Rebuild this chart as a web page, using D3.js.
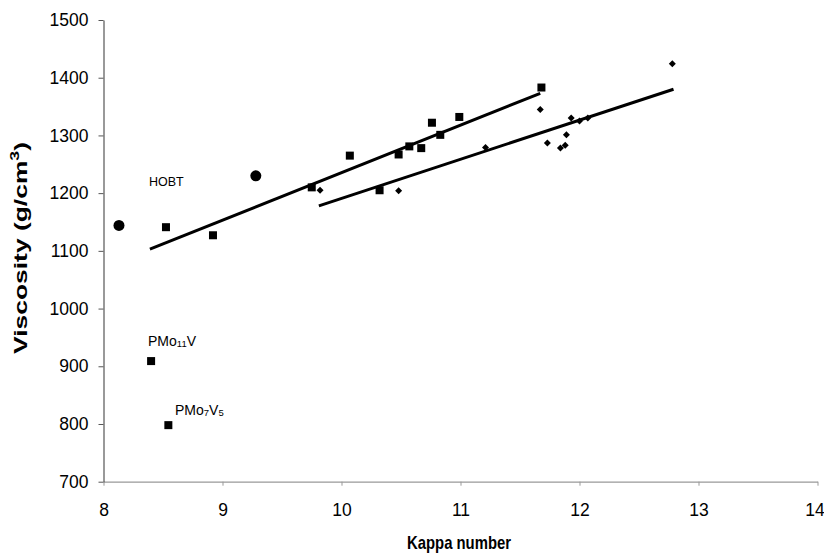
<!DOCTYPE html>
<html>
<head>
<meta charset="utf-8">
<script src="https://cdn.jsdelivr.net/npm/d3@7"></script>
<style>
  body { margin: 0; background: #fff; }
  svg { display: block; }
  .tick text { font-family: "Liberation Sans", Arial, sans-serif; font-size: 17.5px; fill: #000; }
</style>
</head>
<body>
<div id="chart"></div>
<script>
var width = 824, height = 554;

// HOBT (circles)
var circleX = [8.13, 9.28];
var circleY = [1144, 1230];

// squares
var squareX = [8.40, 8.545, 8.525, 8.92, 9.75, 10.07, 10.32, 10.48, 10.57, 10.67, 10.76, 10.83, 10.99, 11.68];
var squareY = [909, 798, 1141, 1127, 1210, 1265, 1205, 1267, 1281, 1278, 1322, 1301, 1332, 1383];

// diamonds
var diamondX = [9.82, 10.48, 11.21, 11.67, 11.73, 11.84, 11.88, 11.89, 11.93, 12.00, 12.07, 12.78];
var diamondY = [1205, 1204, 1279, 1345, 1287, 1278, 1283, 1301, 1330, 1325, 1330, 1424];

// trend lines (end points)
var trendSquare = [[8.39, 1103], [11.67, 1373]];
var trendDiamond = [[9.81, 1178], [12.79, 1380]];

var xTicks = [8, 9, 10, 11, 12, 13, 14];
var yTicks = [700, 800, 900, 1000, 1100, 1200, 1300, 1400, 1500];

var xScale = d3.scaleLinear().domain([8, 14]).range([103.5, 817.5]);
var yScale = d3.scaleLinear().domain([700, 1500]).range([481.7, 20]);

var svg = d3.select("#chart").append("svg")
    .attr("width", width)
    .attr("height", height);

// axes
var xAxis = d3.axisBottom(xScale).tickValues(xTicks).tickFormat(d3.format("d"))
    .tickSize(4).tickSizeOuter(0).tickPadding(18);
var yAxis = d3.axisLeft(yScale).tickValues(yTicks).tickFormat(d3.format("d"))
    .tickSize(5).tickSizeOuter(0).tickPadding(10);

var gx = svg.append("g")
    .attr("class", "x axis")
    .attr("transform", "translate(0," + yScale(700) + ")")
    .call(xAxis);
gx.select(".domain").attr("stroke", "#999").attr("stroke-width", 1.2);
gx.selectAll(".tick line").attr("stroke", "#999");
gx.selectAll(".tick text").filter(function(d) { return d === 14; }).attr("dx", -3);

var gy = svg.append("g")
    .attr("class", "y axis")
    .attr("transform", "translate(" + xScale(8) + ",0)")
    .call(yAxis);
gy.select(".domain").attr("stroke", "#555").attr("stroke-width", 1.2);
gy.selectAll(".tick line").attr("stroke", "#555");

// trend lines
var line = d3.line()
    .x(function(d) { return xScale(d[0]); })
    .y(function(d) { return yScale(d[1]); });

svg.selectAll("path.trend")
    .data([trendSquare, trendDiamond])
    .enter().append("path")
    .attr("class", "trend")
    .attr("d", line)
    .attr("fill", "none")
    .attr("stroke", "#000")
    .attr("stroke-width", 3);

// markers
svg.selectAll("rect.sq")
    .data(d3.range(squareX.length))
    .enter().append("rect")
    .attr("class", "sq")
    .attr("x", function(i) { return xScale(squareX[i]) - 4; })
    .attr("y", function(i) { return yScale(squareY[i]) - 4; })
    .attr("width", 8)
    .attr("height", 8)
    .attr("fill", "#000");

svg.selectAll("path.dm")
    .data(d3.range(diamondX.length))
    .enter().append("path")
    .attr("class", "dm")
    .attr("transform", function(i) { return "translate(" + xScale(diamondX[i]) + "," + yScale(diamondY[i]) + ")"; })
    .attr("d", "M0,-3.5L3.5,0L0,3.5L-3.5,0Z")
    .attr("fill", "#000");

svg.selectAll("circle.hobt")
    .data(d3.range(circleX.length))
    .enter().append("circle")
    .attr("class", "hobt")
    .attr("cx", function(i) { return xScale(circleX[i]); })
    .attr("cy", function(i) { return yScale(circleY[i]); })
    .attr("r", 5.5)
    .attr("fill", "#000");

// annotations
var labelFont = "'Liberation Sans', Arial, sans-serif";

svg.append("text")
    .attr("x", 149).attr("y", 186)
    .attr("font-family", labelFont).attr("font-size", 12.5)
    .text("HOBT");

var t1 = svg.append("text")
    .attr("x", 148).attr("y", 346)
    .attr("font-family", labelFont).attr("font-size", 14);
t1.append("tspan").text("PMo");
t1.append("tspan").attr("font-size", 9.5).attr("dy", 1).text("11");
t1.append("tspan").attr("dy", -1).text("V");

var t2 = svg.append("text")
    .attr("x", 175).attr("y", 415)
    .attr("font-family", labelFont).attr("font-size", 14);
t2.append("tspan").text("PMo");
t2.append("tspan").attr("font-size", 9.5).attr("dy", 1).text("7");
t2.append("tspan").attr("dy", -1).text("V");
t2.append("tspan").attr("font-size", 9.5).attr("dy", 1).text("5");

// axis titles
svg.append("text")
    .attr("x", 459).attr("y", 549)
    .attr("text-anchor", "middle")
    .attr("font-family", labelFont).attr("font-weight", "bold").attr("font-size", 19)
    .attr("textLength", 104).attr("lengthAdjust", "spacingAndGlyphs")
    .text("Kappa number");

var yt = svg.append("text")
    .attr("transform", "translate(27,248) rotate(-90)")
    .attr("text-anchor", "middle")
    .attr("font-family", labelFont).attr("font-weight", "bold").attr("font-size", 18)
    .attr("textLength", 212).attr("lengthAdjust", "spacingAndGlyphs");
yt.append("tspan").text("Viscosity (g/cm");
yt.append("tspan").attr("font-size", 12).attr("dy", -8).text("3");
yt.append("tspan").attr("dy", 8).text(")");
</script>
</body>
</html>
